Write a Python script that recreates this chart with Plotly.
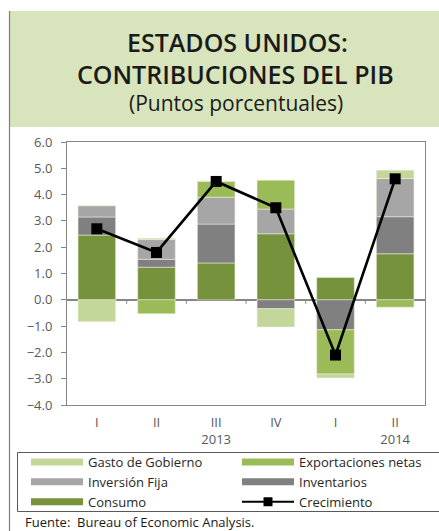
import plotly.graph_objects as go

# ---------------- data ----------------
quarters = ["I", "II", "III", "IV", "I", "II"]
years = ["", "", "2013", "", "", "2014"]
consumo = [2.46, 1.24, 1.40, 2.51, 0.86, 1.75]
inventarios = [0.69, 0.30, 1.48, -0.34, -1.14, 1.41]
inversion_fija = [0.43, 0.75, 1.02, 0.94, 0.00, 1.45]
exportaciones = [0.00, -0.53, 0.61, 1.10, -1.68, -0.28]
gasto = [-0.83, 0.05, 0.00, -0.69, -0.15, 0.32]
crecimiento = [2.7, 1.8, 4.5, 3.5, -2.1, 4.6]
y_ticks = [-4, -3, -2, -1, 0, 1, 2, 3, 4, 5, 6]

# ---------------- style ----------------
C_GASTO = "#c4d79b"
C_EXPO = "#9bbb59"
C_INVF = "#a6a6a6"
C_INVT = "#808080"
C_CONS = "#76923c"
FONT = "Open Sans"

W, H = 439, 531
L, R, T, B = 67, 425, 142, 405  # plot area in pixels


def px(xp):
    return (xp - L) / (R - L)


def py(yp):
    return (B - yp) / (B - T)


xs = list(range(len(quarters)))
ticktext = [q if not y else f"{q}<br>{y}" for q, y in zip(quarters, years)]

fig = go.Figure()
series = [
    ("Consumo", consumo, C_CONS),
    ("Inventarios", inventarios, C_INVT),
    ("Inversión Fija", inversion_fija, C_INVF),
    ("Exportaciones netas", exportaciones, C_EXPO),
    ("Gasto de Gobierno", gasto, C_GASTO),
]
for name, vals, col in series:
    fig.add_trace(go.Bar(
        x=xs, y=vals, name=name, legendgroup=name, showlegend=False,
        marker=dict(color=col, line=dict(color="rgba(235,241,222,0.9)", width=0.6)),
        width=0.63, hoverinfo="name+y",
    ))

fig.add_trace(go.Scatter(
    x=xs, y=crecimiento, name="Crecimiento", legendgroup="Crecimiento",
    mode="lines+markers", showlegend=False,
    line=dict(color="black", width=2.6),
    marker=dict(symbol="square", size=11, color="black"),
))

# legend proxies (wide swatches as in the original)
legend_order = [
    ("Gasto de Gobierno", C_GASTO),
    ("Exportaciones netas", C_EXPO),
    ("Inversión Fija", C_INVF),
    ("Inventarios", C_INVT),
    ("Consumo", C_CONS),
]
for i, (name, col) in enumerate(legend_order):
    fig.add_trace(go.Scatter(
        x=[None], y=[None], name=name, legendgroup=name, mode="lines",
        line=dict(color=col, width=7), legendrank=i + 1,
    ))
fig.add_trace(go.Scatter(
    x=[None], y=[None], name="Crecimiento", legendgroup="Crecimiento",
    mode="lines+markers", line=dict(color="black", width=2),
    marker=dict(symbol="square", size=9, color="black"), legendrank=6,
))

shapes = []
# title background
shapes.append(dict(type="rect", xref="paper", yref="paper",
                   x0=px(9), x1=px(445), y0=py(127), y1=py(11),
                   fillcolor="#d8e4bc", line=dict(width=0), layer="below"))
# left frame line
shapes.append(dict(type="line", xref="paper", yref="paper",
                   x0=px(9.5), x1=px(9.5), y0=py(11), y1=py(531),
                   line=dict(color="#7f7f7f", width=1.2)))
# legend frame
shapes.append(dict(type="rect", xref="paper", yref="paper",
                   x0=px(17.5), x1=px(445), y0=py(511.5), y1=py(452.5),
                   line=dict(color="#595959", width=1), fillcolor="rgba(0,0,0,0)"))
# category separator ticks on the zero line
for k in range(len(xs) - 1):
    shapes.append(dict(type="line", xref="x", yref="y", xsizemode="scaled",
                       ysizemode="pixel", yanchor=0,
                       x0=k + 0.5, x1=k + 0.5, y0=0, y1=-4,
                       line=dict(color="#868686", width=1)))

annotations = [
    dict(text="ESTADOS UNIDOS:", xref="paper", yref="paper",
         x=px(237), y=py(42), showarrow=False, xanchor="center", yanchor="middle",
         font=dict(family=FONT, size=25, weight=600, color="#1a1a1a")),
    dict(text="CONTRIBUCIONES DEL PIB", xref="paper", yref="paper",
         x=px(235), y=py(74), showarrow=False, xanchor="center", yanchor="middle",
         font=dict(family=FONT, size=25, weight=600, color="#1a1a1a")),
    dict(text="(Puntos porcentuales)", xref="paper", yref="paper",
         x=px(236), y=py(103), showarrow=False, xanchor="center", yanchor="middle",
         font=dict(family=FONT, size=21, color="#1a1a1a")),
    dict(text="Fuente:  Bureau of Economic Analysis.", xref="paper", yref="paper",
         x=px(23), y=py(522), showarrow=False, xanchor="left", yanchor="middle",
         font=dict(family=FONT, size=13, color="#1a1a1a")),
]

fig.update_layout(
    width=W, height=H,
    margin=dict(l=L, r=W - R, t=T, b=H - B, autoexpand=False),
    paper_bgcolor="white", plot_bgcolor="white",
    barmode="relative", bargap=0.37,
    font=dict(family=FONT, size=13, color="#595959"),
    shapes=shapes, annotations=annotations,
    legend=dict(orientation="h", x=px(26), y=py(447), xanchor="left", yanchor="top",
                entrywidth=144, entrywidthmode="pixels", itemwidth=52,
                traceorder="normal", bgcolor="rgba(0,0,0,0)", borderwidth=0,
                font=dict(family=FONT, size=13, color="#262626"),
                tracegroupgap=0),
    showlegend=True,
    hovermode="x",
)
fig.update_xaxes(
    range=[-0.5, len(xs) - 0.5], tickvals=xs, ticktext=ticktext,
    showgrid=False, zeroline=False, ticks="", ticklabelstandoff=5,
    showline=True, linecolor="#868686", linewidth=1, mirror=True,
    tickfont=dict(family=FONT, size=13, color="#595959"),
)
fig.update_yaxes(
    range=[-4, 6], tickvals=y_ticks, tickformat=".1f",
    showgrid=False, zeroline=True, zerolinecolor="#868686", zerolinewidth=1.5,
    ticks="outside", ticklen=5, tickcolor="#868686", ticklabelstandoff=6,
    showline=True, linecolor="#868686", linewidth=1, mirror=True,
    tickfont=dict(family=FONT, size=13, color="#595959"),
)

fig.write_html("out.html", config={"displayModeBar": False},
               post_script="document.body.style.margin='0';")
